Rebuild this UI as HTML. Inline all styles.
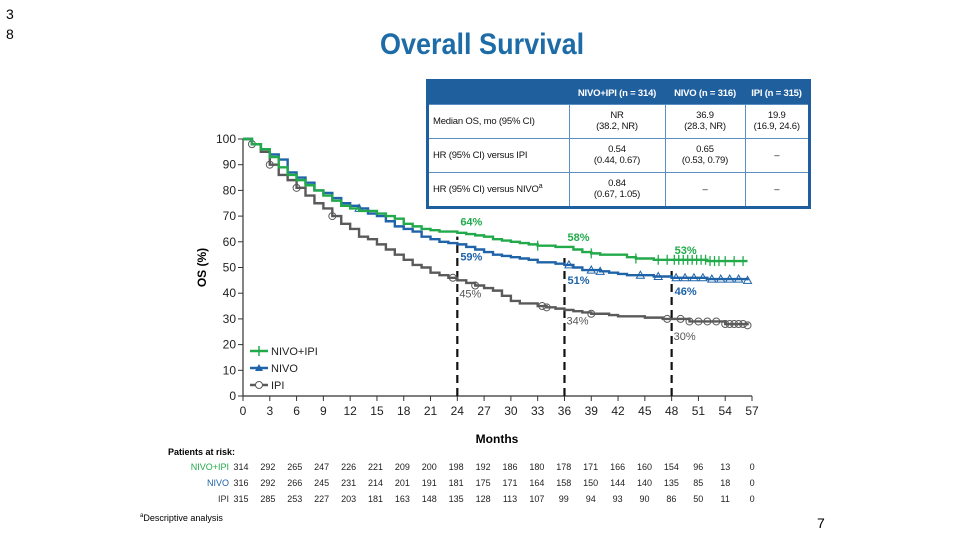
<!DOCTYPE html>
<html><head><meta charset="utf-8"><style>
body{margin:0;background:#fff;}
#root{position:relative;width:960px;height:540px;overflow:hidden;font-family:"Liberation Sans",sans-serif;}
.t{position:absolute;white-space:nowrap;}
table{border-collapse:collapse;}
</style></head><body>
<div id="root">
<div class="t" style="left:6px;top:4px;font-size:14px;line-height:20px">3<br>8</div>
<div class="t" style="left:380px;top:28px;font-size:30px;font-weight:bold;color:#1d6ca8;transform:scaleX(0.9);transform-origin:0 0">Overall Survival</div>
<table style="position:absolute;left:426px;top:79px;width:385px;height:130px;border:3px solid #1f5f9e;font-size:9.5px;color:#111;letter-spacing:-0.2px">
<tr style="background:#1f5f9e;color:#fff;font-weight:bold;height:24px"><td style="width:138px"></td><td style="text-align:center;width:94px">NIVO+IPI (n = 314)</td><td style="text-align:center;width:78px">NIVO (n = 316)</td><td style="text-align:center">IPI (n = 315)</td></tr>
<tr><td style="border:1px solid #5b8ec0;padding-left:4px">Median OS, mo (95% CI)</td><td style="border:1px solid #5b8ec0;text-align:center">NR<br>(38.2, NR)</td><td style="border:1px solid #5b8ec0;text-align:center">36.9<br>(28.3, NR)</td><td style="border:1px solid #5b8ec0;text-align:center">19.9<br>(16.9, 24.6)</td></tr>
<tr><td style="border:1px solid #5b8ec0;padding-left:4px">HR (95% CI) versus IPI</td><td style="border:1px solid #5b8ec0;text-align:center">0.54<br>(0.44, 0.67)</td><td style="border:1px solid #5b8ec0;text-align:center">0.65<br>(0.53, 0.79)</td><td style="border:1px solid #5b8ec0;text-align:center">–</td></tr>
<tr><td style="border:1px solid #5b8ec0;padding-left:4px">HR (95% CI) versus NIVO<sup style="font-size:7px">a</sup></td><td style="border:1px solid #5b8ec0;text-align:center">0.84<br>(0.67, 1.05)</td><td style="border:1px solid #5b8ec0;text-align:center">–</td><td style="border:1px solid #5b8ec0;text-align:center">–</td></tr>
</table>
<svg id="chart" width="960" height="540" style="position:absolute;left:0;top:0;pointer-events:none"></svg>
<div class="t" style="left:140px;top:513px;font-size:9px"><sup style="font-size:6px">a</sup>Descriptive analysis</div>
<div class="t" style="left:817px;top:515px;font-size:14px">7</div>
</div>
<script>
const monthsA=[0,1,2,3,4,5,6,7,8,9,10,11,12,13,14,15,16,17,18,19,20,21,22,23,24,25,26,27,28,29,30,31,32,33,34,35,36,37,38,39,40,41,42,43,44,45,46,47,48,50,52,54,56.5];
const nivoIpi=[100,98,96,93,89,86,84,82,80,78,76,74,73,72,72,71,70,69,67,66,65,64.5,64,64,63.5,63,62.5,62,61,60.5,60,59.5,59,58.5,58.5,58,58,57,56,55.5,55,55,55,54,53.5,53.5,53,53,53,53,52.5,52.5,52.5];
const nivo=[100,98,96,94,92,87,85,83,80,79,77,75,74,73,71,70,68,66,65,64,62,61,60,59.5,59,58,57,56,55,54.5,54,53.5,53,52,52,51.5,51,50,49,49,48.5,48,47.5,47,47,47,46.5,46.5,46,46,45.5,45.5,45];
const ipi=[100,98,95,90,86,84,81,78,75,73,70,67,65,62,61,59,57,55,53,51,50,48,47,46,45,44,43,42,41,39,37,36,36,35,34.5,34,33.5,33,32.5,32,32,31.5,31,31,31,30.5,30.5,30,30,29,29,28,27.5];
const censorA=[33,39,44,46.5,47.5,48.3,48.8,49.3,49.8,50.3,50.8,51.3,51.8,52.3,52.8,53.3,54,55,56];
const censorB=[13,36.5,39,40,44.5,46.5,48.5,49.5,50.5,51.5,52.5,53.5,54.5,55.5,56.5];
const censorC=[1,3,6,10,23.5,26,33.5,34,39,47.5,49,50,51,52,53,54,54.5,55,55.5,56,56.5];
const xTicks=[0,3,6,9,12,15,18,21,24,27,30,33,36,39,42,45,48,51,54,57];
const yTicks=[0,10,20,30,40,50,60,70,80,90,100];
const riskA=[314,292,265,247,226,221,209,200,198,192,186,180,178,171,166,160,154,96,13,0];
const riskB=[316,292,266,245,231,214,201,191,181,175,171,164,158,150,144,140,135,85,18,0];
const riskC=[315,285,253,227,203,181,163,148,135,128,113,107,99,94,93,90,86,50,11,0];
const landmarks=[24,36,48];
const lmA=[64,58,53],lmB=[59,51,46],lmC=[45,34,30];
const X=m=>243+m*(752-243)/57, Y=v=>396-v*(396-139)/100;
const svg=document.getElementById('chart');const NS='http://www.w3.org/2000/svg';
function mk(tag,attrs,txt){const e=document.createElementNS(NS,tag);for(const k in attrs)e.setAttribute(k,attrs[k]);if(txt!==undefined)e.textContent=txt;svg.appendChild(e);return e;}
const F='Liberation Sans, sans-serif';
let ax=mk('path',{d:`M${X(0)} ${Y(100)} V${Y(0)} H${X(57)}`,stroke:'#333',fill:'none','stroke-width':1.2});


xTicks.forEach(t=>{let l=mk('line',{x1:X(t),x2:X(t),y1:Y(0),y2:Y(0)+5,stroke:'#333'});


let s=mk('text',{x:X(t),y:Y(0)+19,'font-size':12,'text-anchor':'middle','font-family':F,fill:'#222'},t);

});
yTicks.forEach(t=>{let l=mk('line',{x1:X(0)-5,x2:X(0),y1:Y(t),y2:Y(t),stroke:'#333'});


let s=mk('text',{x:X(0)-7,y:Y(t)+4,'font-size':12,'text-anchor':'end','font-family':F,fill:'#222'},t);

});
let xt=mk('text',{x:497,y:443,'font-size':12,'font-weight':'bold','text-anchor':'middle','font-family':F},'Months');


let yt=mk('text',{x:0,y:0,'font-size':12,'font-weight':'bold','text-anchor':'middle','font-family':F,transform:`translate(206,${Y(50)}) rotate(-90)`},'OS (%)');


landmarks.forEach((m,i)=>{let l=mk('line',{x1:X(m),x2:X(m),y1:Y(0),y2:Y(i==0?lmA[0]-2:i==1?lmA[1]-4:lmB[2]+3),stroke:'#111','stroke-width':2.2,'stroke-dasharray':'8,5'});

});
function step(ms,vs){let d=`M${X(ms[0])} ${Y(vs[0])}`;for(let i=1;i<ms.length;i++){d+=` H${X(ms[i])} V${Y(vs[i])}`;}return d;}
function valAt(ms,vs,t){let v=vs[0];for(let i=0;i<ms.length;i++){if(ms[i]<=t)v=vs[i];}return v;}
const series=[['ipi',ipi,'#5a5a5a',censorC,'c'],['nivo',nivo,'#1f63a8',censorB,'t'],['nivo-ipi',nivoIpi,'#22aa4a',censorA,'p']];
series.forEach(([n,vs,c,cz,mkType])=>{
let p=mk('path',{d:step(monthsA,vs),stroke:c,fill:'none','stroke-width':2.4});


cz.forEach(t=>{const x=X(t),y=Y(valAt(monthsA,vs,t));let e;
if(mkType=='c')e=mk('circle',{cx:x,cy:y,r:3.5,fill:'none',stroke:c,'stroke-width':1});
else if(mkType=='t')e=mk('path',{d:`M${x-4} ${y+3} L${x} ${y-4} L${x+4} ${y+3} Z`,fill:'none',stroke:c,'stroke-width':1});
else e=mk('path',{d:`M${x} ${y-5} V${y+5}`,stroke:c,'stroke-width':1.3});

});
});
const offB=[16,19,17],offC=[17,16,21];
landmarks.forEach((m,i)=>{
let a=mk('text',{x:X(m)+3,y:Y(lmA[i])-6,'font-size':11,'font-weight':'bold',fill:'#22aa4a','font-family':F},lmA[i]+'%');


let b=mk('text',{x:X(m)+3,y:Y(lmB[i])+offB[i],'font-size':11,'font-weight':'bold',fill:'#1f63a8','font-family':F},lmB[i]+'%');


let c=mk('text',{x:X(m)+2,y:Y(lmC[i])+offC[i],'font-size':11,fill:'#555','font-family':F},lmC[i]+'%');

});
[['NIVO+IPI','#22aa4a','p'],['NIVO','#1f63a8','t'],['IPI','#5a5a5a','c']].forEach(([lab,c,t],i)=>{const y=351+i*17;
let l=mk('line',{x1:250,x2:268,y1:y,y2:y,stroke:c,'stroke-width':2.4});


let m=t=='c'?mk('circle',{cx:259,cy:y,r:3.5,fill:'#fff',stroke:c}):t=='t'?mk('path',{d:`M255 ${y+3} L259 ${y-4} L263 ${y+3}Z`,fill:c}):mk('path',{d:`M259 ${y-5}V${y+5}`,stroke:c,'stroke-width':1.5});


let s=mk('text',{x:271,y:y+4,'font-size':11,'font-family':F,fill:'#222'},lab);

});
let rh=mk('text',{x:168,y:455,'font-size':9,'font-weight':'bold','font-family':F},'Patients at risk:');


[['NIVO+IPI','#22aa4a',riskA],['NIVO','#1f63a8',riskB],['IPI','#333',riskC]].forEach(([lab,c,arr],r)=>{const y=470+r*16;
let s=mk('text',{x:229,y:y,'font-size':9,'text-anchor':'end','font-family':F,fill:c},lab);


arr.forEach((v,i)=>{let t=mk('text',{x:241+i*26.9,y:y,'font-size':9,'text-anchor':'middle','font-family':F,fill:'#222'},v);

});});
</script>
</body></html>
